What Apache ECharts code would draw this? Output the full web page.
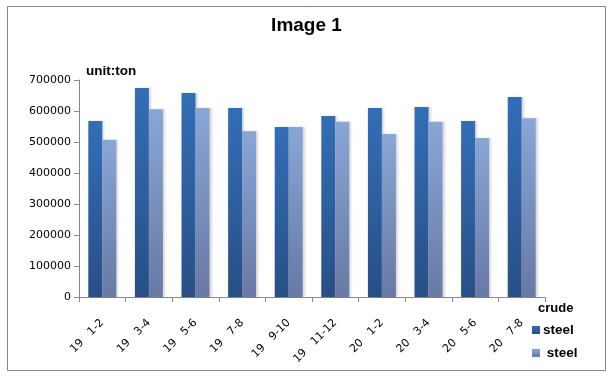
<!DOCTYPE html>
<html><head><meta charset="utf-8">
<script src="https://cdn.jsdelivr.net/npm/echarts@6/dist/echarts.min.js"></script>
<style>html,body{margin:0;padding:0;background:#fff}#c{width:613px;height:383px}</style>
</head><body><div id="c"></div>
<script>
const categories = ['19   1-2','19   3-4','19   5-6','19   7-8','19   9-10','19   11-12','20   1-2','20   3-4','20   5-6','20   7-8'];
const series1 = [568000, 674000, 658000, 610000, 548000, 584000, 610000, 613000, 568000, 645000];
const series2 = [507000, 606000, 610000, 535000, 548000, 565000, 526000, 565000, 513000, 577000];
const yTicks = [0, 700000, 100000];

const chart = echarts.init(document.getElementById('c'));
const grad = (a, b) => new echarts.graphic.LinearGradient(0, 0, 0, 1, [{offset: 0, color: a}, {offset: 1, color: b}]);
chart.setOption({
  animation: false,
  title: {text: 'Image 1', left: 'center', top: 11, textStyle: {fontFamily: 'Liberation Sans', fontWeight: 'bold', fontSize: 19, color: '#000'}},
  graphic: [
    {type: 'rect', shape: {x: 7.5, y: 6.5, width: 598, height: 364}, style: {fill: 'none', stroke: '#888', lineWidth: 1}, z: -1},
    {type: 'text', left: 538, top: 302, style: {text: 'crude', font: 'bold 13px "Liberation Sans"', fill: '#000'}}
  ],
  legend: {
    orient: 'vertical', left: 527, top: 318, itemGap: 9, itemWidth: 8, itemHeight: 8,
    icon: 'rect', data: ['crude steel', 'steel'],
    formatter: n => n === 'steel' ? ' steel' : 'steel',
    textStyle: {fontFamily: 'Liberation Sans', fontWeight: 'bold', fontSize: 13.5, color: '#000', padding: [0, 0, 0, -2]}
  },
  grid: {left: 79, right: 68, top: 80, bottom: 86, containLabel: false},
  xAxis: {
    type: 'category', data: categories,
    axisLine: {lineStyle: {color: '#888'}},
    axisTick: {show: true, length: 5, lineStyle: {color: '#888'}},
    axisLabel: {rotate: 45, margin: 24, fontFamily: 'DejaVu Sans', fontSize: 11, color: '#000', interval: 0}
  },
  yAxis: {
    type: 'value', min: yTicks[0], max: yTicks[1], interval: yTicks[2],
    name: 'unit:ton', nameLocation: 'end', nameGap: 2,
    nameTextStyle: {fontFamily: 'Liberation Sans', fontWeight: 'bold', fontSize: 13.5, color: '#000', align: 'left', padding: [0, 0, 0, 7]},
    axisLine: {show: true, lineStyle: {color: '#888'}},
    axisTick: {show: true, length: 5, lineStyle: {color: '#888'}},
    splitLine: {show: false},
    axisLabel: {fontFamily: 'DejaVu Sans', fontSize: 11, color: '#000', margin: 8, formatter: v => String(v)}
  },
  series: [
    {name: 'crude steel', type: 'bar', data: series1, barWidth: 14, barGap: '0%',
      itemStyle: {color: grad('#336eb7', '#284f86'), shadowColor: 'rgba(0,0,0,0.15)', shadowOffsetX: 2, shadowBlur: 2}},
    {name: 'steel', type: 'bar', data: series2, barWidth: 14, barGap: '0%',
      itemStyle: {color: grad('#89a6d6', '#6879a4'), shadowColor: 'rgba(0,0,0,0.15)', shadowOffsetX: 2, shadowBlur: 2}}
  ]
});
</script></body></html>
